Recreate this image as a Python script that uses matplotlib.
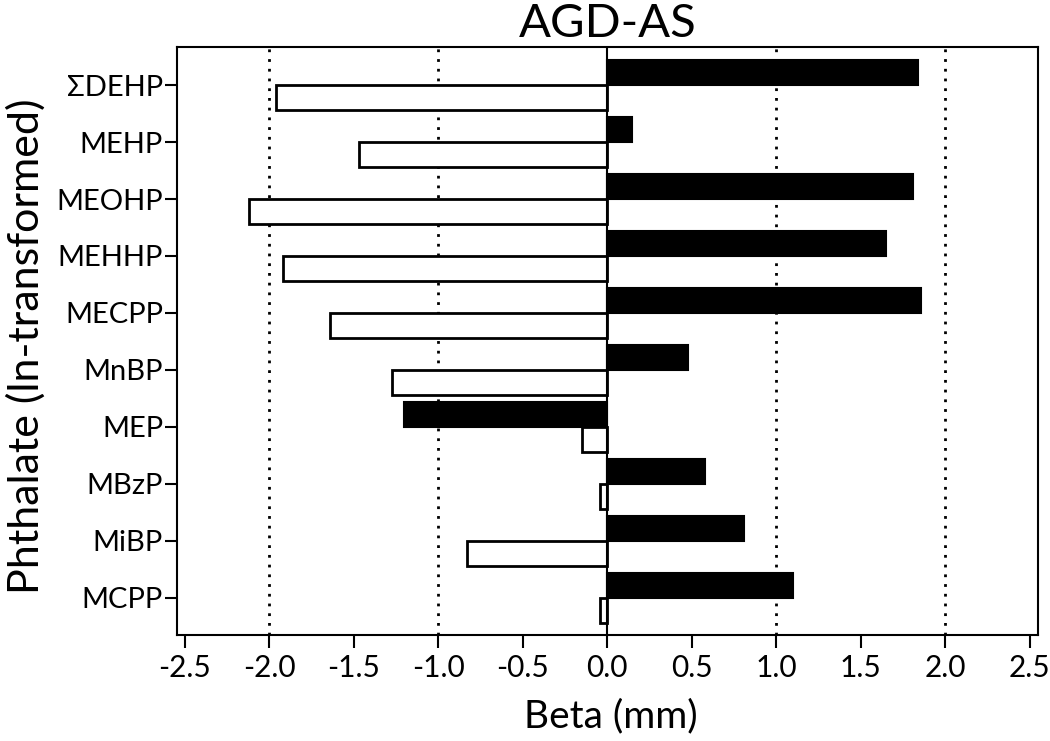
import numpy as np
from matplotlib import pyplot as plt

plt.rcParams['font.family'] = ['Lato', 'DejaVu Sans']
plt.rcParams['axes.unicode_minus'] = False

# 데이터
categories = ['ΣDEHP', 'MEHP', 'MEOHP', 'MEHHP', 'MECPP',
              'MnBP', 'MEP', 'MBzP', 'MiBP', 'MCPP']
beta_black = [1.84, 0.15, 1.81, 1.65, 1.86, 0.48, -1.20, 0.58, 0.81, 1.10]
beta_white = [-1.96, -1.47, -2.12, -1.92, -1.64, -1.27, -0.15, -0.04, -0.83, -0.04]
xticks = [-2.5, -2.0, -1.5, -1.0, -0.5, 0.0, 0.5, 1.0, 1.5, 2.0, 2.5]

fig = plt.figure(figsize=(10.5, 7.41), dpi=100)
ax = fig.add_axes([177/1050, 1-635/741, (1038-177)/1050, (635-47)/741])

pos = np.arange(len(categories))[::-1]
h = 0.44

for g in [-2, -1, 1, 2]:
    ax.axvline(g, color='black', linestyle=(0, (1, 2.5)), lw=2, zorder=1)

ax.barh(pos, beta_black, height=h, align='edge', color='black',
        edgecolor='black', lw=1.5, zorder=3)
ax.barh(pos, beta_white, height=-h, align='edge', color='white',
        edgecolor='black', lw=2, zorder=3)
ax.axvline(0, color='black', lw=1.5, zorder=4)

ax.set_xlim(-2.545, 2.55)
ax.set_ylim(-0.65, 9.667)
ax.set_xticks(xticks)
ax.set_xticklabels(['%.1f' % t for t in xticks])
ax.set_yticks(pos)
ax.set_yticklabels(categories)
ax.tick_params(axis='x', labelsize=21.5, length=9, width=1.5, pad=5)
ax.tick_params(axis='y', labelsize=21, length=9, width=1.5, pad=1)
for s in ax.spines.values():
    s.set_linewidth(1.5)

fig.text(0.5 * (177 + 1038) / 1050, 1 - 24/741, 'AGD-AS', ha='center', va='center', fontsize=34)
fig.text(611/1050, 1 - 716/741, 'Beta (mm)', ha='center', va='center', fontsize=28)
fig.text(26/1050, 1 - 346/741, 'Phthalate (ln-transformed)', ha='center', va='center',
         rotation=90, fontsize=31)

fig.savefig('out.png', dpi=100)
